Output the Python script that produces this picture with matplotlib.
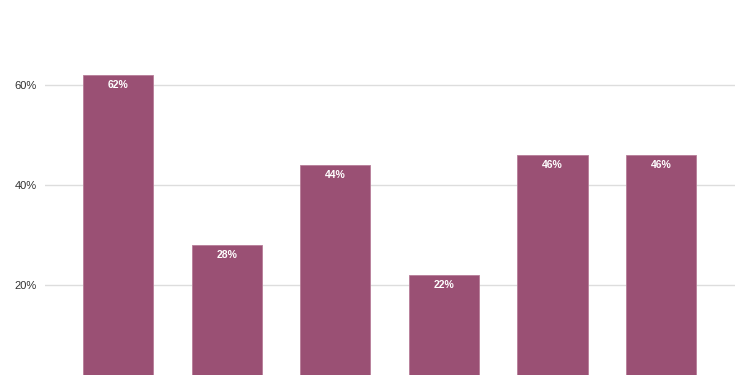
import matplotlib
matplotlib.use("Agg")
import matplotlib.pyplot as plt

categories = ["A", "B", "C", "D", "E", "F"]
values = [62, 28, 44, 22, 46, 46]
yticks = [20, 40, 60]
ytick_labels = ["20%", "40%", "60%"]

plt.rcParams['font.family'] = ['Liberation Sans', 'DejaVu Sans']
fig = plt.figure(figsize=(7.5, 3.75), dpi=100)
ax = fig.add_axes([45/750, -10/375, 690/750, 325/375])

x = list(range(len(categories)))
bars = ax.bar(x, values, width=0.645, color="#9a5074", edgecolor="#b77d98", linewidth=0.6, zorder=3)
for xi, v in zip(x, values):
    ax.text(xi, v - 1.0, f"{v}%", ha="center", va="top", color="white",
            fontsize=7.5, fontweight="bold", zorder=4)

ax.set_xlim(-0.672, 5.68)
ax.set_ylim(0, 65)
ax.set_yticks(yticks)
ax.set_yticklabels(ytick_labels, fontsize=8, color="#333333")
ax.set_xticks([])
ax.grid(axis="y", color="#dddddd", linewidth=1, zorder=0)
ax.tick_params(axis="y", length=0, pad=6)
for s in ax.spines.values():
    s.set_visible(False)

fig.savefig("out.png", dpi=100)
